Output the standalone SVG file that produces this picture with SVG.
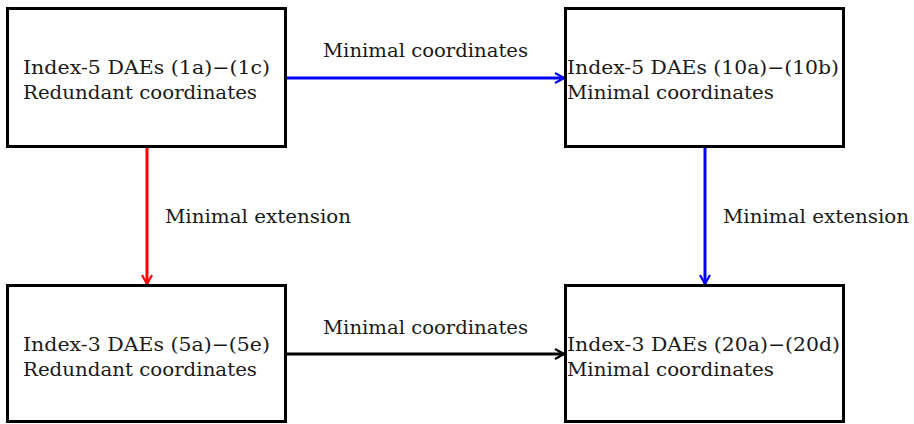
<svg xmlns="http://www.w3.org/2000/svg" width="914" height="424" viewBox="0 0 914 424">
<style>
.box{fill:#fff;stroke:#000;stroke-width:3}
text{font-family:'DejaVu Serif','Liberation Serif',serif;font-size:19px;fill:#1a1a1a}
.c{fill:none;stroke-width:3}
</style>
<defs>
<marker id="hk" viewBox="0 0 12 12" refX="10.5" refY="6" markerWidth="12" markerHeight="12" markerUnits="userSpaceOnUse" orient="auto">
<path d="M1.5,1 L10.5,6 L1.5,11" fill="none" stroke="#000" stroke-width="2.2"/>
</marker>
<marker id="hb" viewBox="0 0 12 12" refX="10.5" refY="6" markerWidth="12" markerHeight="12" markerUnits="userSpaceOnUse" orient="auto">
<path d="M1.5,1 L10.5,6 L1.5,11" fill="none" stroke="#00f" stroke-width="2.2"/>
</marker>
<marker id="hr" viewBox="0 0 12 12" refX="10.5" refY="6" markerWidth="12" markerHeight="12" markerUnits="userSpaceOnUse" orient="auto">
<path d="M1.5,1 L10.5,6 L1.5,11" fill="none" stroke="#f00" stroke-width="2.2"/>
</marker>
</defs>
<g id="connectors">
<line class="c" x1="287" y1="78" x2="564" y2="78" stroke="#00f" marker-end="url(#hb)"/>
<line class="c" x1="147" y1="147" x2="147" y2="284" stroke="#f00" marker-end="url(#hr)"/>
<line class="c" x1="705" y1="147" x2="705" y2="284" stroke="#00f" marker-end="url(#hb)"/>
<line class="c" x1="287" y1="354" x2="564" y2="354" stroke="#000" marker-end="url(#hk)"/>
<text x="323" y="57" textLength="205" lengthAdjust="spacingAndGlyphs">Minimal coordinates</text>
<text x="323" y="334" textLength="205" lengthAdjust="spacingAndGlyphs">Minimal coordinates</text>
<text x="165" y="223" textLength="186" lengthAdjust="spacingAndGlyphs">Minimal extension</text>
<text x="723" y="223" textLength="186" lengthAdjust="spacingAndGlyphs">Minimal extension</text>
</g>
<g id="n1">
<rect class="box" x="7.5" y="8.5" width="278" height="138"/>
<text x="23" y="74" textLength="247" lengthAdjust="spacingAndGlyphs">Index-5 DAEs (1a)−(1c)</text>
<text x="23" y="99" textLength="234" lengthAdjust="spacingAndGlyphs">Redundant coordinates</text>
</g>
<g id="n2">
<rect class="box" x="565.5" y="8.5" width="278" height="138"/>
<text x="567" y="74" textLength="272" lengthAdjust="spacingAndGlyphs">Index-5 DAEs (10a)−(10b)</text>
<text x="567" y="99" textLength="207" lengthAdjust="spacingAndGlyphs">Minimal coordinates</text>
</g>
<g id="n3">
<rect class="box" x="7.5" y="285.5" width="278" height="136"/>
<text x="23" y="351" textLength="247" lengthAdjust="spacingAndGlyphs">Index-3 DAEs (5a)−(5e)</text>
<text x="23" y="376" textLength="234" lengthAdjust="spacingAndGlyphs">Redundant coordinates</text>
</g>
<g id="n4">
<rect class="box" x="565.5" y="285.5" width="278" height="136"/>
<text x="567" y="351" textLength="273" lengthAdjust="spacingAndGlyphs">Index-3 DAEs (20a)−(20d)</text>
<text x="567" y="376" textLength="207" lengthAdjust="spacingAndGlyphs">Minimal coordinates</text>
</g>
</svg>
